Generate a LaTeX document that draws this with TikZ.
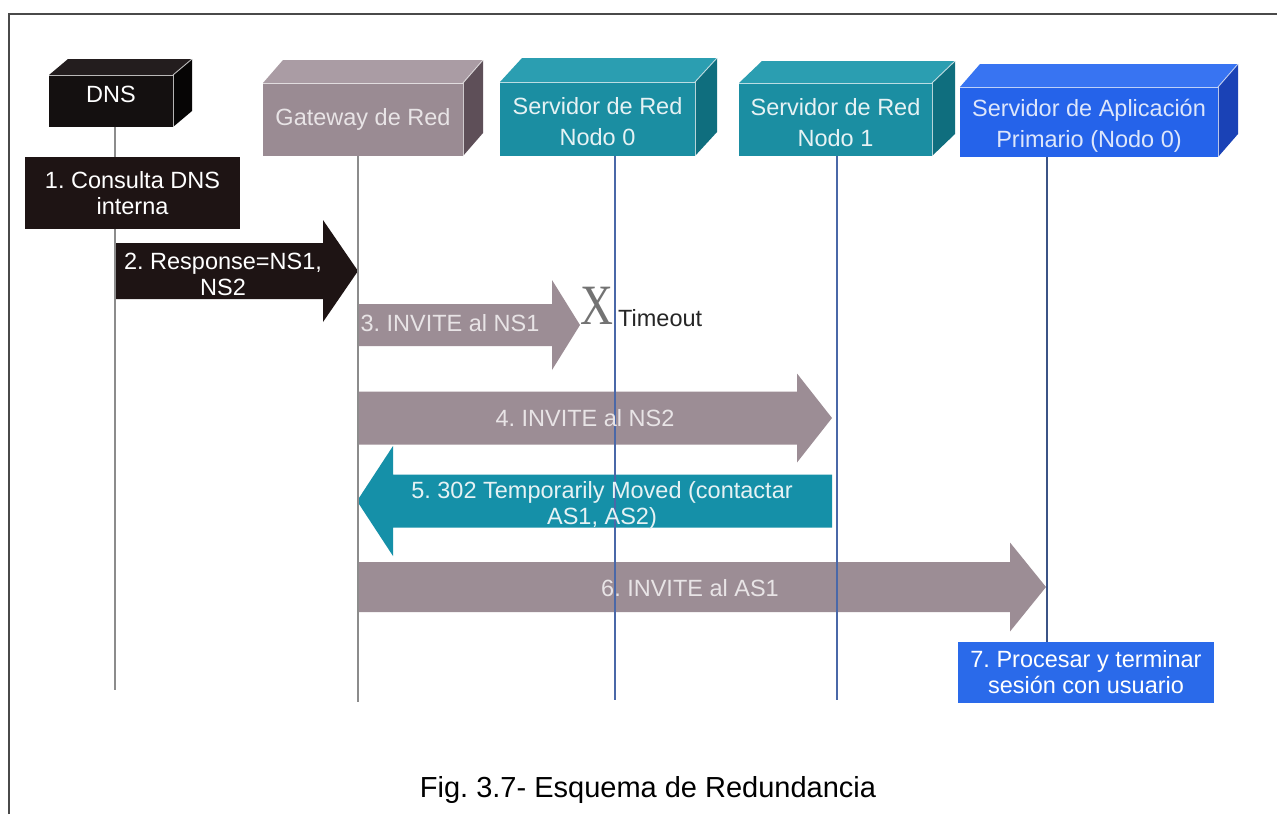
\documentclass[tikz,border=0pt]{standalone}
\usepackage{fontspec}
\setmainfont{Liberation Sans}
\newfontfamily\xserif{Liberation Serif}
\usetikzlibrary{calc}
\frenchspacing

% palettes: front / top / side faces and label text of each entity
\definecolor{dnsfront}{HTML}{141010}
\definecolor{dnstop}{HTML}{231D1E}
\definecolor{dnsside}{HTML}{060505}
\definecolor{dnstext}{HTML}{FFFFFF}
\definecolor{gwfront}{HTML}{9A8B93}
\definecolor{gwtop}{HTML}{AA9CA4}
\definecolor{gwside}{HTML}{5E4F58}
\definecolor{gwtext}{HTML}{E8E4E6}
\definecolor{nsfront}{HTML}{1B8EA2}
\definecolor{nstop}{HTML}{2B9EB1}
\definecolor{nsside}{HTML}{0F6E7E}
\definecolor{nstext}{HTML}{E6F2F4}
\definecolor{asfront}{HTML}{2563EA}
\definecolor{astop}{HTML}{3874F2}
\definecolor{asside}{HTML}{1A42B6}
\definecolor{astext}{HTML}{DDE6FB}
% message arrows, step boxes, lifelines
\definecolor{stepdark}{HTML}{1E1414}
\definecolor{msggray}{HTML}{9C8D95}
\definecolor{msgteal}{HTML}{1590A8}
\definecolor{stepblue}{HTML}{2A6AEA}
\definecolor{lifegray}{HTML}{8C8C8C}
\definecolor{lifeblue}{HTML}{4A68A8}
\definecolor{framegray}{HTML}{4A4A4A}

\tikzset{
  entity/.style={rectangle, inner sep=0pt, outer sep=0pt},
  entitylabel/.style={inner sep=0pt, align=center,
    font=\fontsize{23.5}{31}\selectfont},
  edgehi/.style={draw=white, line width=0.9pt, opacity=0.7},
  lifeline/.style={line width=1.4pt},
  stepbox/.style={rectangle, inner sep=0pt, outer sep=0pt, align=center,
    font=\fontsize{23.5}{26}\selectfont},
  msgtext/.style={align=center, inner sep=0pt, font=\fontsize{23.5}{26}\selectfont},
}

% 3D block: name, x1, y1, x2, y2 (front face), depth offset "dx,dy",
% label shift, palette, label
\newcommand\entitybox[9]{%
  \node[entity, fill=#8front, minimum width=#4-#2, minimum height=#5-#3]
    (#1) at ({(#2+#4)/2},{(#3+#5)/2}) {};
  \fill[#8top] (#1.north west) -- ++(#6) -- ($(#1.north east)+(#6)$)
    -- (#1.north east) -- cycle;
  \fill[#8side] (#1.north east) -- ++(#6) -- ($(#1.south east)+(#6)$)
    -- (#1.south east) -- cycle;
  \draw[edgehi] (#1.north west) -- (#1.north east) -- (#1.south east);
  \draw[edgehi] (#1.north east) -- ++(#6);
  \node[entitylabel, text=#8text] (#1-label) at ($(#1.center)+(0,#7)$) {#9};
}

% block arrow: from x, to x, centre y, half body, half head, head length, colour
\newcommand\fatarrow[7]{%
  \pgfmathsetmacro\arrdir{(#2>#1)?1:-1}
  \pgfmathsetmacro\arrbase{#2-\arrdir*#6}
  \fill[#7] (#1,#3-#4) -- (\arrbase,#3-#4) -- (\arrbase,#3-#5) -- (#2,#3)
    -- (\arrbase,#3+#5) -- (\arrbase,#3+#4) -- (#1,#3+#4) -- cycle;
}

\begin{document}
\begin{tikzpicture}[x=1pt, y=-1pt]
\useasboundingbox (0,0) rectangle (1277,814);
\fill[white] (0,0) rectangle (1277,814);

% frame
\draw[framegray, line width=2pt] (9,814) -- (9,14) -- (1277,14);

% entities
\entitybox{dns}{49}{75}{173}{127}{19,-16}{-7}{dns}{DNS}
\entitybox{gw}{263}{83}{463}{156}{20,-23}{0}{gw}{Gateway de Red}
\entitybox{ns0}{500}{82}{695}{156}{22,-24}{3}{ns}{Servidor de Red\\Nodo 0}
\entitybox{ns1}{739}{83}{932}{156}{23,-22}{3}{ns}{Servidor de Red\\Nodo 1}
\entitybox{as0}{960}{87}{1218}{157}{20,-23}{4}{as}{Servidor de Aplicación\\Primario (Nodo 0)}

% message arrows
\fatarrow{114}{358}{271}{28}{51}{35}{stepdark}
\fatarrow{358}{580}{325}{21}{45}{28}{msggray}
\fatarrow{358}{832}{418}{26.5}{44.5}{35}{msggray}
\fatarrow{832}{357}{501}{26.5}{55}{36}{msgteal}
\fatarrow{358}{1046}{587}{25}{44.5}{36}{msggray}

% lifeline ends
\coordinate (dnsend) at (115,690);
\coordinate (gwend) at (358,702);
\coordinate (ns0end) at (615,700);
\coordinate (ns1end) at (837,700);
\coordinate (asx) at (1047,600);

% step boxes
\node[stepbox, fill=stepdark, text=white, minimum width=215, minimum height=72]
  (s1) at (132.5,193) {1. Consulta DNS\\interna};
\node[stepbox, fill=stepblue, text=white, minimum width=256, minimum height=61]
  (s7) at (1086,672.5) {7. Procesar y terminar\\sesión con usuario};

% lifelines
\draw[lifeline, lifegray] (dns.south -| dnsend) -- (s1.north -| dnsend);
\draw[lifeline, lifegray] (s1.south -| dnsend) -- (dnsend);
\draw[lifeline, lifegray] (gw.south -| gwend) -- (gwend);
\draw[lifeline, lifeblue] (ns0.south -| ns0end) -- (ns0end);
\draw[lifeline, lifeblue] (ns1.south -| ns1end) -- (ns1end);
\draw[lifeline, lifeblue!80!black] (as0.south -| asx) -- (s7.north -| asx);

% message labels
\node[msgtext, text=white] (m2) at (223,274.5) {2. Response=NS1,\\NS2};
\node[msgtext, text=gwtext] (m3) at (450,323) {3. INVITE al NS1};
\node[font=\xserif\fontsize{57}{57}\selectfont, text=black!55, inner sep=0pt,
  xscale=0.8, transform shape] (x3) at (597,306) {X};
\node[msgtext, text=black!85, anchor=west] (to3) at (618,318) {Timeout};
\node[msgtext, text=gwtext] (m4) at (585,418) {4. INVITE al NS2};
\node[msgtext, text=nstext] (m5) at (602,505) {5. 302 Temporarily Moved (contactar\\AS1, AS2)};
\node[msgtext, text=gwtext] (m6) at (690,588) {6. INVITE al AS1};

% caption
\node[font=\fontsize{29}{34}\selectfont, inner sep=0pt] (cap) at (648,790)
  {Fig. 3.7- Esquema de Redundancia};
\end{tikzpicture}
\end{document}
